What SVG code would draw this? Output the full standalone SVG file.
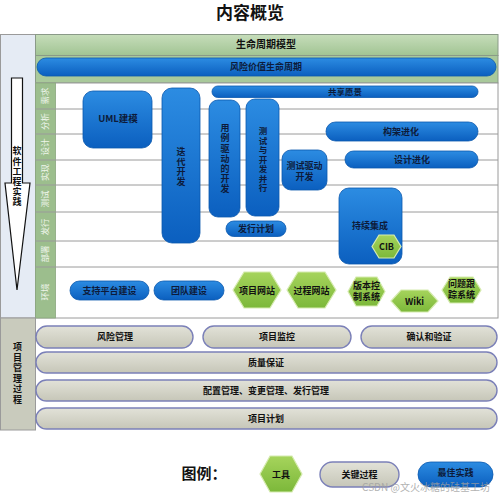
<svg xmlns="http://www.w3.org/2000/svg" width="500" height="494" viewBox="0 0 500 494">
<defs>
<linearGradient id="gBlue" x1="0" y1="0" x2="0" y2="1"><stop offset="0" stop-color="#2c8ce2"/><stop offset="1" stop-color="#0b5fbf"/></linearGradient>
<linearGradient id="gGreen" x1="0" y1="0" x2="0" y2="1"><stop offset="0" stop-color="#a6d45c"/><stop offset="1" stop-color="#7cb83a"/></linearGradient>
<linearGradient id="gGrey" x1="0" y1="0" x2="0" y2="1"><stop offset="0" stop-color="#e2e2d8"/><stop offset="1" stop-color="#c6c6b8"/></linearGradient>
<linearGradient id="gHead" x1="0" y1="0" x2="0" y2="1"><stop offset="0" stop-color="#c6ddba"/><stop offset="1" stop-color="#a1c493"/></linearGradient>
</defs>
<style>
text{font-family:"Noto Sans CJK SC","Noto Sans",sans-serif;font-weight:bold;text-anchor:middle}
.blue{fill:url(#gBlue);stroke:#0a58ad;stroke-width:0.8}
.hex{fill:url(#gGreen);stroke:#d6ebb0;stroke-width:1.2}
.grey{fill:url(#gGrey);stroke:#7b80b8;stroke-width:1.4}
.bt{font-size:9px;fill:#0d1b3a}
.gt{font-size:9px;fill:#111}
.vt{writing-mode:vertical-rl;letter-spacing:1px}
.lane{font-size:8.5px;fill:#eef5ea;font-weight:normal}
.ln{stroke:#9a9a9a;stroke-width:1}
</style>
<rect width="500" height="494" fill="#ffffff"/>
<text x="250" y="19" style="font-size:17px;fill:#111">内容概览</text>

<g id="frame">
<rect x="0.5" y="34.5" width="35" height="283.5" fill="#e5ebf4" stroke="#9a9a9a"/>
<rect x="35.5" y="34.5" width="462.5" height="21" fill="url(#gHead)" stroke="#8a9a88"/>
<rect x="35.5" y="55.5" width="462.5" height="27.5" fill="#a9c99b" stroke="#8a9a88"/>
<rect x="35.5" y="83" width="462.5" height="235" fill="#ffffff" stroke="#9a9a9a"/>
<rect x="35.5" y="83" width="20" height="235" fill="#9cbe8d" stroke="#8aa67e" stroke-width="0.8"/>
<line class="ln" x1="35.5" y1="109" x2="498" y2="109"/>
<line class="ln" x1="35.5" y1="134" x2="498" y2="134"/>
<line class="ln" x1="35.5" y1="160" x2="498" y2="160"/>
<line class="ln" x1="35.5" y1="185" x2="498" y2="185"/>
<line class="ln" x1="35.5" y1="212" x2="498" y2="212"/>
<line class="ln" x1="35.5" y1="241" x2="498" y2="241"/>
<line class="ln" x1="35.5" y1="267" x2="498" y2="267"/>
<text x="266" y="48" style="font-size:10px;fill:#111">生命周期模型</text>
</g>

<g id="lanes">
<text class="lane" transform="translate(48,96) rotate(-90)">需求</text>
<text class="lane" transform="translate(48,121.5) rotate(-90)">分析</text>
<text class="lane" transform="translate(48,147) rotate(-90)">设计</text>
<text class="lane" transform="translate(48,172.5) rotate(-90)">实现</text>
<text class="lane" transform="translate(48,199) rotate(-90)">测试</text>
<text class="lane" transform="translate(48,227) rotate(-90)">发行</text>
<text class="lane" transform="translate(48,254) rotate(-90)">部署</text>
<text class="lane" transform="translate(48,292) rotate(-90)">环境</text>
</g>

<g id="practice-arrow">
<path d="M11.5,78 H22.5 V183 H30 L17,290 L5,183 H11.5 Z" fill="#ffffff" stroke="#111" stroke-width="1.2"/>
<text class="vt" x="17" y="177" style="font-size:9px;fill:#111;letter-spacing:1.2px">软件工程实践</text>
</g>

<g id="risk-value"><rect class="blue" x="37" y="58" width="459" height="18" rx="9"/><text class="bt" x="266" y="70">风险价值生命周期</text></g>
<g id="shared-vision"><rect class="blue" x="212" y="86" width="266" height="11.5" rx="5.75"/><text class="bt" x="345" y="95" style="font-size:8.5px">共享愿景</text></g>
<g id="uml"><rect class="blue" x="83" y="91" width="69" height="57" rx="10"/><text class="bt" x="118" y="122" style="font-size:9.5px">UML建模</text></g>
<g id="iterative"><rect class="blue" x="162" y="88" width="38" height="155" rx="10"/><text class="bt vt" x="181" y="167">迭代开发</text></g>
<g id="usecase"><rect class="blue" x="209" y="100" width="31" height="117" rx="9"/><text class="bt vt" x="225" y="159" style="letter-spacing:1.2px">用例驱动的开发</text></g>
<g id="test-parallel"><rect class="blue" x="246" y="99" width="33" height="117" rx="9"/><text class="bt vt" x="263" y="160" style="font-size:8.5px">测试与开发并行</text></g>
<g id="release-plan"><rect class="blue" x="226" y="221" width="60" height="15.5" rx="7.75"/><text class="bt" x="256" y="232">发行计划</text></g>
<g id="tdd"><rect class="blue" x="282" y="150" width="45" height="40" rx="9"/><text class="bt"><tspan x="304.5" y="169">测试驱动</tspan><tspan x="304.5" y="180">开发</tspan></text></g>
<g id="arch"><rect class="blue" x="326" y="122" width="152" height="19" rx="9.5"/><text class="bt" x="401" y="135">构架进化</text></g>
<g id="design"><rect class="blue" x="345" y="151" width="133" height="17" rx="8.5"/><text class="bt" x="412" y="162.5">设计进化</text></g>
<g id="ci"><rect class="blue" x="339" y="188" width="63" height="76" rx="10"/><text class="bt" x="370" y="229">持续集成</text></g>
<g id="cib"><polygon class="hex" points="372,246.5 379,235 394,235 401,246.5 394,258 379,258"/><text class="gt" x="386.5" y="250">CIB</text></g>
<g id="platform"><rect class="blue" x="70" y="281" width="79" height="19" rx="9.5"/><text class="bt" x="109.5" y="293.5">支持平台建设</text></g>
<g id="team"><rect class="blue" x="154" y="281" width="70" height="19" rx="9.5"/><text class="bt" x="189" y="293.5">团队建设</text></g>
<g id="site"><polygon class="hex" points="233,290 244,272 270,272 281,290 270,308 244,308"/><text class="gt" x="257" y="293.5">项目网站</text></g>
<g id="process-site"><polygon class="hex" points="287,290 298,272 325,272 336,290 325,308 298,308"/><text class="gt" x="311.5" y="293.5">过程网站</text></g>
<g id="vcs"><polygon class="hex" points="348,291.5 356,277 377,277 385,291.5 377,306 356,306"/><text class="gt"><tspan x="366.5" y="289">版本控</tspan><tspan x="366.5" y="300">制系统</tspan></text></g>
<g id="wiki"><polygon class="hex" points="391,301 401,290 428,290 438,301 428,312 401,312"/><text class="gt" x="414.5" y="304.5">Wiki</text></g>
<g id="issue"><polygon class="hex" points="442,290 450,277 473,277 481,290 473,303 450,303"/><text class="gt"><tspan x="461.5" y="287">问题跟</tspan><tspan x="461.5" y="298">踪系统</tspan></text></g>

<g id="pm-label">
<rect x="0.5" y="318" width="35" height="112" fill="#c9cbbd" stroke="#9a9a9a"/>
<text class="vt" x="17.5" y="374" style="font-size:9px;fill:#111;letter-spacing:1.5px">项目管理过程</text>
</g>
<g id="risk-mgmt"><rect class="grey" x="36" y="326" width="157" height="22" rx="11"/><text class="gt" x="115" y="340">风险管理</text></g>
<g id="monitor"><rect class="grey" x="203" y="326" width="148" height="22" rx="11"/><text class="gt" x="277" y="340">项目监控</text></g>
<g id="verify"><rect class="grey" x="361" y="326" width="136" height="22" rx="11"/><text class="gt" x="429" y="340">确认和验证</text></g>
<g id="qa"><rect class="grey" x="36" y="352" width="461" height="21" rx="10.5"/><text class="gt" x="266" y="366">质量保证</text></g>
<g id="config"><rect class="grey" x="36" y="380" width="461" height="21" rx="10.5"/><text class="gt" x="266" y="394">配置管理、变更管理、发行管理</text></g>
<g id="plan"><rect class="grey" x="36" y="408" width="461" height="21" rx="10.5"/><text class="gt" x="266" y="422">项目计划</text></g>

<g id="legend">
<text x="204" y="479" style="font-size:15px;fill:#111">图例：</text>
<polygon class="hex" points="260,474 270,456 292,456 302,474 292,492 270,492"/><text class="gt" x="281" y="477.5">工具</text>
<rect class="grey" x="320" y="462" width="79" height="25" rx="12.5"/><text class="gt" x="359.5" y="477.5">关键过程</text>
<rect class="blue" x="418" y="462" width="75" height="25" rx="12.5"/><text class="bt" x="455.5" y="476">最佳实践</text>
<text x="426" y="491" style="font-size:10px;fill:#a0a0a0;font-weight:normal;opacity:0.8">CSDN @文火冰糖的硅基工坊</text>
</g>
</svg>
